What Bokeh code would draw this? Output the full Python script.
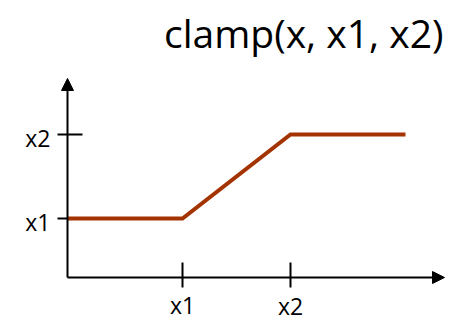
from bokeh.plotting import figure
from bokeh.models import Range1d, Arrow, NormalHead
from bokeh.core.properties import value
from bokeh.embed import file_html
from bokeh.resources import INLINE

# data (arbitrary units: 1 unit ~ 10 px)
line_x = [0.0, 11.5, 22.3, 33.8]
line_y = [5.9, 5.9, 14.3, 14.3]
x_ticks = [11.5, 22.3]
x_tick_labels = ["x1", "x2"]
y_ticks = [5.9, 14.3]
y_tick_labels = ["x1", "x2"]
x_axis_end = 37.7
y_axis_end = 19.9
title_text = "clamp(x, x1, x2)"

FONT = "Open Sans"

p = figure(width=450, height=321, output_backend="svg", toolbar_location=None,
           x_range=Range1d(-6.7, 38.3), y_range=Range1d(-4.4, 27.7),
           min_border=0, x_axis_type=None, y_axis_type=None)
p.outline_line_color = None
p.grid.visible = False
p.background_fill_color = "white"
p.border_fill_color = "white"

# axes with arrowheads
p.add_layout(Arrow(end=NormalHead(size=12, fill_color="black", line_color="black", line_width=1),
                   x_start=0, y_start=0, x_end=x_axis_end, y_end=0,
                   line_width=2, line_color="black"))
p.add_layout(Arrow(end=NormalHead(size=12, fill_color="black", line_color="black", line_width=1),
                   x_start=0, y_start=0, x_end=0, y_end=y_axis_end,
                   line_width=2, line_color="black"))

# tick marks
p.segment(x0=x_ticks, y0=[1.5] * len(x_ticks), x1=x_ticks, y1=[-1.0] * len(x_ticks),
          line_color="black", line_width=2)
p.segment(x0=[-1.0] * len(y_ticks), y0=y_ticks, x1=[1.5] * len(y_ticks), y1=y_ticks,
          line_color="black", line_width=2)

# clamp curve
p.line(line_x, line_y, line_width=4, line_color="#A33300", line_join="miter")

# tick labels
p.text(x=x_ticks, y=[0] * len(x_ticks), text=x_tick_labels, y_offset=[27, 28],
       text_align="center", text_baseline="alphabetic",
       text_font=value(FONT), text_font_size="23px", text_color="black")
p.text(x=[-1.7] * len(y_ticks), y=y_ticks, text=y_tick_labels, y_offset=3,
       text_align="right", text_baseline="alphabetic",
       text_font=value(FONT), text_font_size="23px", text_color="black")

# title
p.text(x=[37.6], y=[24.5], text=[title_text],
       text_align="right", text_baseline="alphabetic",
       text_font=value(FONT), text_font_size="39px", text_color="black")

open("out.html", "w").write(file_html(p, INLINE))
